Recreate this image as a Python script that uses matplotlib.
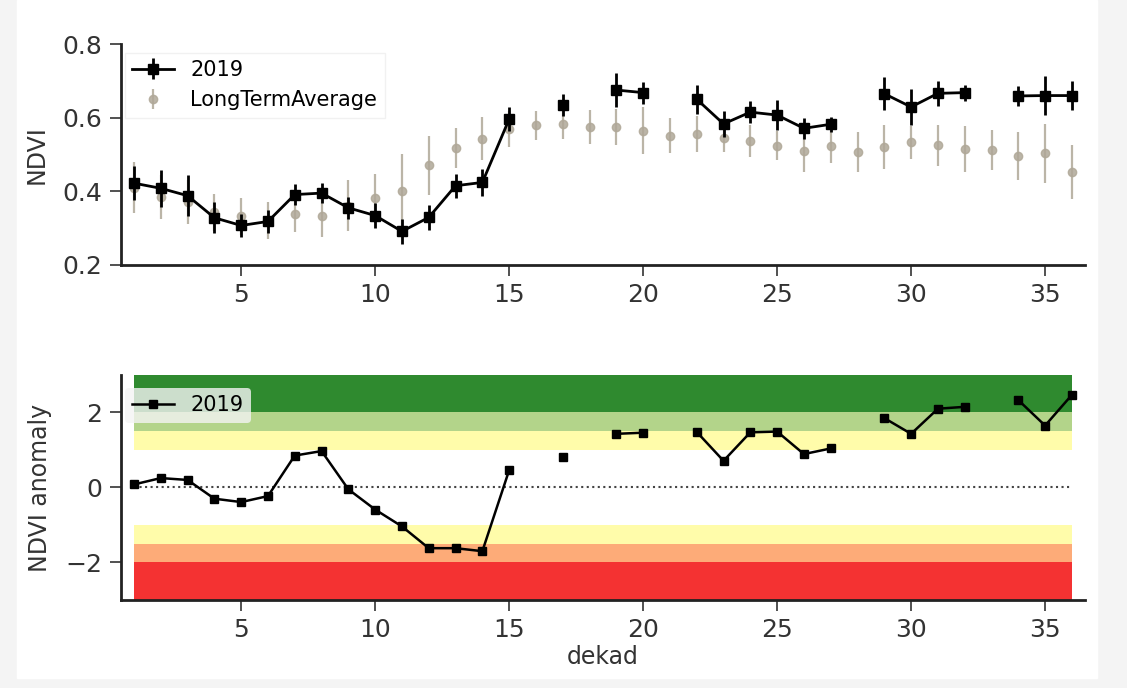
import numpy as np
import matplotlib.pyplot as plt
from matplotlib.patches import Rectangle

nan = np.nan
dekad = np.arange(1, 37)

ndvi_2019 = [0.422, 0.408, 0.388, 0.328, 0.307, 0.318, 0.391, 0.395, 0.355, 0.334,
             0.291, 0.329, 0.415, 0.424, 0.596, nan, 0.634, nan, 0.675, 0.668,
             nan, 0.650, 0.583, 0.615, 0.607, 0.571, 0.582, nan, 0.665, 0.629,
             0.666, 0.668, nan, 0.659, 0.660, 0.660]
err_2019 = [0.046, 0.05, 0.056, 0.042, 0.031, 0.031, 0.029, 0.028, 0.029, 0.034,
            0.033, 0.034, 0.032, 0.036, 0.032, nan, 0.03, nan, 0.045, 0.03,
            nan, 0.04, 0.036, 0.03, 0.04, 0.028, 0.02, nan, 0.045, 0.05,
            0.033, 0.022, nan, 0.028, 0.053, 0.04]

ndvi_lta = [0.41, 0.384, 0.37, 0.343, 0.332, 0.32, 0.339, 0.332, 0.361, 0.381,
            0.40, 0.470, 0.518, 0.543, 0.569, 0.579, 0.582, 0.575, 0.575, 0.564,
            0.551, 0.556, 0.545, 0.536, 0.524, 0.509, 0.522, 0.506, 0.521, 0.533,
            0.525, 0.515, 0.512, 0.496, 0.503, 0.453]
err_lta = [0.07, 0.06, 0.06, 0.05, 0.05, 0.05, 0.05, 0.055, 0.07, 0.066,
           0.10, 0.08, 0.055, 0.058, 0.05, 0.04, 0.04, 0.046, 0.048, 0.064,
           0.048, 0.048, 0.038, 0.043, 0.04, 0.058, 0.046, 0.054, 0.06, 0.044,
           0.056, 0.063, 0.055, 0.065, 0.08, 0.073]

anomaly_2019 = [0.08, 0.25, 0.2, -0.30, -0.39, -0.23, 0.85, 0.97, -0.05, -0.59,
                -1.04, -1.62, -1.62, -1.70, 0.46, nan, 0.82, nan, 1.43, 1.46,
                nan, 1.48, 0.71, 1.47, 1.49, 0.89, 1.04, nan, 1.85, 1.43,
                2.10, 2.15, nan, 2.33, 1.65, 2.47]

# anomaly classes (lower, upper, colour)
band_low = [2, 1.5, 1, -1.5, -2, -3]
band_high = [3, 2, 1.5, -1, -1.5, -2]
band_col = ['#2f8a2f', '#b3d48a', '#fffcaa', '#fffcaa', '#fdab78', '#f43232']

fig = plt.figure(figsize=(11.27, 6.88), dpi=100, facecolor='#f4f4f4')
fig.patches.append(Rectangle((17 / 1127, 10 / 688), 1080 / 1127, 678 / 688,
                             transform=fig.transFigure, color='white', zorder=-1))

tick_col = '#333333'
ax1 = fig.add_axes([0.107, 0.615, 0.856, 0.321])
ax2 = fig.add_axes([0.107, 0.128, 0.856, 0.327])

ax1.errorbar(dekad, ndvi_lta, yerr=err_lta, fmt='o', color='#b0a898', ms=6,
             elinewidth=1.6, alpha=0.85, label='LongTermAverage', zorder=2)
ax1.errorbar(dekad, ndvi_2019, yerr=err_2019, fmt='-s', color='black', ms=7,
             lw=2, elinewidth=2, label='2019', zorder=3)
ax1.set_ylim(0.2, 0.8)
ax1.set_yticks([0.2, 0.4, 0.6, 0.8])
ax1.set_ylabel('NDVI', fontsize=17, color=tick_col, labelpad=10)
h, l = ax1.get_legend_handles_labels()
ax1.legend(h[::-1], l[::-1], loc='upper left', fontsize=15, framealpha=0.8,
           edgecolor='#eeeeee', fancybox=False, borderpad=0.35,
           borderaxespad=0.2, bbox_to_anchor=(0.0, 0.98))

for lo, hi, c in zip(band_low, band_high, band_col):
    ax2.fill_between([1, 36], lo, hi, color=c, lw=0, zorder=0)
ax2.plot([1, 36], [0, 0], ':', color='#444444', lw=1.5, zorder=1)
ax2.plot(dekad, anomaly_2019, '-s', color='black', ms=6, lw=1.8, label='2019', zorder=3)
ax2.set_ylim(-3, 3)
ax2.set_yticks([-2, 0, 2])
ax2.set_ylabel('NDVI anomaly', fontsize=17, color=tick_col, labelpad=10)
ax2.set_xlabel('dekad', fontsize=17, color=tick_col, labelpad=2)
ax2.legend(loc='upper left', fontsize=15, framealpha=0.8, edgecolor='none',
           facecolor='#f4f4f4', fancybox=True, borderpad=0.35,
           borderaxespad=0.2, bbox_to_anchor=(0.0, 0.96))

for ax in (ax1, ax2):
    ax.set_xlim(0.5, 36.5)
    ax.set_xticks([5, 10, 15, 20, 25, 30, 35])
    ax.spines['top'].set_visible(False)
    ax.spines['right'].set_visible(False)
    ax.spines['left'].set_linewidth(2)
    ax.spines['bottom'].set_linewidth(2)
    ax.spines['left'].set_color('#222222')
    ax.spines['bottom'].set_color('#222222')
    ax.tick_params(labelsize=18, colors=tick_col, length=8, width=1.2, pad=5)

fig.savefig('out.png', dpi=100, facecolor=fig.get_facecolor())
